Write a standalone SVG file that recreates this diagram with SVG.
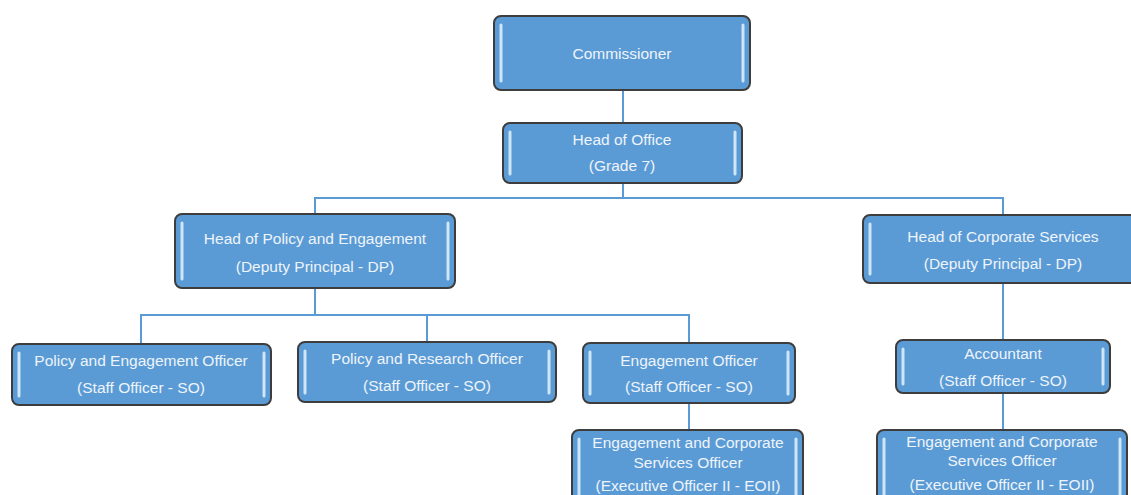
<svg xmlns="http://www.w3.org/2000/svg" width="1131" height="495" viewBox="0 0 1131 495">
<style>
.box{fill:#5b9bd5;stroke:#3d3d3d;stroke-width:2}
.hl{stroke:#cfe5f8;stroke-width:3;stroke-linecap:round}
.t{font-family:"Liberation Sans",Arial,sans-serif;font-size:15.5px;fill:#eef4fb;text-anchor:middle;dominant-baseline:central}
.c{stroke:#5b9bd5;stroke-width:2;fill:none}
</style>
<rect width="1131" height="495" fill="#ffffff"/>
<g id="connectors">
<line class="c" x1="623" y1="90" x2="623" y2="123"/>
<line class="c" x1="623" y1="183" x2="623" y2="198"/>
<polyline class="c" points="315,214 315,198 1003,198 1003,215"/>
<line class="c" x1="315" y1="288" x2="315" y2="315"/>
<polyline class="c" points="141,344 141,315 689,315 689,343"/>
<line class="c" x1="427" y1="315" x2="427" y2="342"/>
<line class="c" x1="1003" y1="283" x2="1003" y2="340"/>
<line class="c" x1="689" y1="403" x2="689" y2="430"/>
<line class="c" x1="1003" y1="393" x2="1003" y2="430"/>
</g>
<g id="commissioner">
<rect class="box" x="494" y="16" width="256" height="74" rx="7"/>
<line class="hl" x1="501" y1="25" x2="501" y2="81"/><line class="hl" x1="743" y1="25" x2="743" y2="81"/>
<text class="t" x="622" y="53">Commissioner</text>
</g>
<g id="head-office">
<rect class="box" x="503" y="123" width="239" height="60" rx="7"/>
<line class="hl" x1="510" y1="132" x2="510" y2="174"/><line class="hl" x1="735" y1="132" x2="735" y2="174"/>
<text class="t" x="622" y="139">Head of Office</text>
<text class="t" x="622" y="165">(Grade 7)</text>
</g>
<g id="head-policy">
<rect class="box" x="175" y="214" width="280" height="74" rx="7"/>
<line class="hl" x1="182" y1="223" x2="182" y2="279"/><line class="hl" x1="448" y1="223" x2="448" y2="279"/>
<text class="t" x="315" y="238">Head of Policy and Engagement</text>
<text class="t" x="315" y="266">(Deputy Principal - DP)</text>
</g>
<g id="head-corporate">
<rect class="box" x="863" y="215" width="275" height="68" rx="7"/>
<line class="hl" x1="870" y1="224" x2="870" y2="274"/>
<text class="t" x="1003" y="236">Head of Corporate Services</text>
<text class="t" x="1003" y="263">(Deputy Principal - DP)</text>
</g>
<g id="policy-engagement-officer">
<rect class="box" x="12" y="344" width="259" height="61" rx="7"/>
<line class="hl" x1="19" y1="353" x2="19" y2="396"/><line class="hl" x1="264" y1="353" x2="264" y2="396"/>
<text class="t" x="141" y="360">Policy and Engagement Officer</text>
<text class="t" x="141" y="387">(Staff Officer - SO)</text>
</g>
<g id="policy-research-officer">
<rect class="box" x="298" y="342" width="258" height="60" rx="7"/>
<line class="hl" x1="305" y1="351" x2="305" y2="393"/><line class="hl" x1="549" y1="351" x2="549" y2="393"/>
<text class="t" x="427" y="358">Policy and Research Officer</text>
<text class="t" x="427" y="385">(Staff Officer - SO)</text>
</g>
<g id="engagement-officer">
<rect class="box" x="583" y="343" width="212" height="60" rx="7"/>
<line class="hl" x1="590" y1="352" x2="590" y2="394"/><line class="hl" x1="788" y1="352" x2="788" y2="394"/>
<text class="t" x="689" y="360">Engagement Officer</text>
<text class="t" x="689" y="386">(Staff Officer - SO)</text>
</g>
<g id="accountant">
<rect class="box" x="896" y="340" width="214" height="53" rx="7"/>
<line class="hl" x1="903" y1="349" x2="903" y2="384"/><line class="hl" x1="1103" y1="349" x2="1103" y2="384"/>
<text class="t" x="1003" y="353">Accountant</text>
<text class="t" x="1003" y="380">(Staff Officer - SO)</text>
</g>
<g id="ecso-left">
<rect class="box" x="572" y="430" width="231" height="80" rx="7"/>
<line class="hl" x1="579" y1="439" x2="579" y2="500"/><line class="hl" x1="796" y1="439" x2="796" y2="500"/>
<text class="t" x="688" y="442">Engagement and Corporate</text>
<text class="t" x="688" y="462">Services Officer</text>
<text class="t" x="688" y="485">(Executive Officer II - EOII)</text>
</g>
<g id="ecso-right">
<rect class="box" x="877" y="430" width="250" height="80" rx="7"/>
<line class="hl" x1="884" y1="439" x2="884" y2="500"/><line class="hl" x1="1120" y1="439" x2="1120" y2="500"/>
<text class="t" x="1002" y="441">Engagement and Corporate</text>
<text class="t" x="1002" y="460">Services Officer</text>
<text class="t" x="1002" y="484">(Executive Officer II - EOII)</text>
</g>
</svg>
